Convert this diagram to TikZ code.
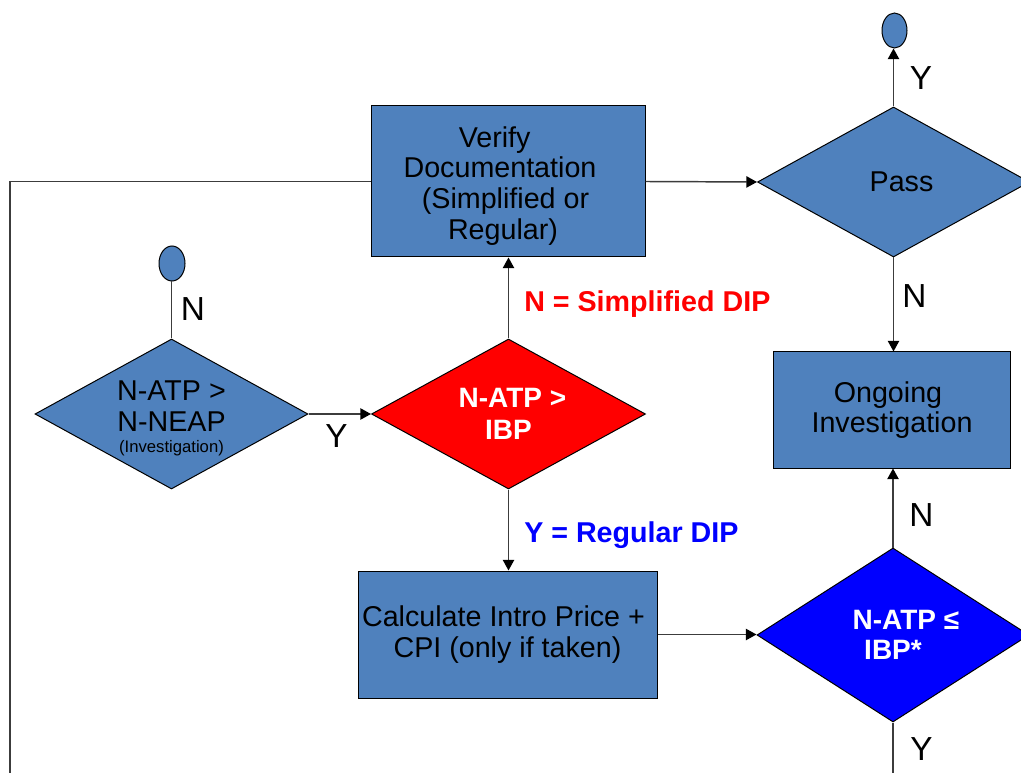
\documentclass[tikz,border=0pt]{standalone}
\usepackage{fontspec}
\setmainfont{Liberation Sans}
\usetikzlibrary{shapes.geometric,arrows.meta}
\definecolor{boxblue}{HTML}{4F81BD}
\definecolor{linegray}{HTML}{3C3C3C}
\definecolor{decred}{HTML}{FF0000}
\definecolor{decblue}{HTML}{0000FF}
\begin{document}
\begin{tikzpicture}[x=0.75pt,y=-0.75pt,
  proc/.style={draw=black,line width=0.75pt,fill=boxblue,rectangle,inner sep=0pt,align=center,font=\fontsize{21.5}{23}\selectfont},
  dec/.style={draw=black,line width=0.75pt,diamond,inner sep=0pt,align=center,font=\fontsize{21.5}{23}\selectfont},
  term/.style={draw=black,line width=0.75pt,fill=boxblue,ellipse,inner sep=0pt,minimum width=18.75pt,minimum height=26.25pt},
  conn/.style={draw=linegray,line width=1.1pt},
  arr/.style={conn,-{Triangle[length=8pt,width=8.5pt,color=black]}},
  yn/.style={inner sep=0pt,font=\fontsize{25}{30}\selectfont},
  dlabel/.style={inner sep=0pt,anchor=base west,font=\bfseries\fontsize{21.5}{24}\selectfont}
]
\useasboundingbox (0,0) rectangle (1021,773);
\clip (0,0) rectangle (1021,773);

% nodes
\node[proc,minimum width=205.5pt,minimum height=113.25pt] (verify) at (508,181.5)
  {\rule{0pt}{21.75pt}Verify\kern20pt\\Documentation\kern12pt\\(Simplified or\kern3.75pt\\Regular)\kern7.5pt};
\node[dec,fill=boxblue,aspect=1.8133,minimum width=204pt,minimum height=112.5pt] (pass) at (893.5,182)
  {\hspace*{12pt}Pass};
\node[term] (endY) at (894.5,30.5) {};
\node[proc,minimum width=177.75pt,minimum height=87pt] (ongoing) at (892,410)
  {Ongoing\kern6pt\\Investigation};
\node[dec,fill=boxblue,aspect=1.82,minimum width=204.75pt,minimum height=112.5pt] (natp) at (171.5,414)
  {\rule{0pt}{21.4pt}N-ATP >\\N-NEAP\\[-7pt]{\fontsize{12.5}{14}\selectfont(Investigation)}};
\node[term,minimum width=19.5pt] (endN) at (172,263.5) {};
\node[dec,fill=decred,text=white,aspect=1.8267,minimum width=205.5pt,minimum height=112.5pt,font=\bfseries\fontsize{21}{24}\selectfont] (ibp) at (508.5,414)
  {\hspace*{6pt}N-ATP >\\IBP};
\node[proc,minimum width=224.25pt,minimum height=95.25pt] (calc) at (507.5,634.5)
  {Calculate Intro Price +\kern6pt\\CPI (only if taken)};
\node[dec,fill=decblue,text=white,aspect=1.5632,minimum width=204pt,minimum height=130.5pt,font=\bfseries\fontsize{21}{23}\selectfont] (ibpstar) at (893,635)
  {\hspace*{19.5pt}N-ATP ≤\\IBP*};

\coordinate (bl) at (10,790);
\coordinate (by) at (893,790);

% connectors
\draw[conn] (verify.west) -| (bl);
\draw[arr] (verify.east) -- (pass.west);
\draw[arr] (pass.north) -- (pass.north |- endY.south);
\draw[arr] (pass.south) -- (pass.south |- ongoing.north);
\draw[arr] (ibpstar.north) -- (ibpstar.north |- ongoing.south);
\draw[conn] (ibpstar.south) -- (by);
\draw[arr] (calc.east) -- (calc.east -| ibpstar.west);
\draw[arr] (ibp.south) -- (ibp.south |- calc.north);
\draw[arr] (ibp.north) -- (ibp.north |- verify.south);
\draw[arr] (natp.east) -- (ibp.west);
\draw[conn] (natp.north) -- (natp.north |- endN.south);

% labels
\node[yn] (lY1) at (921,78) {Y};
\node[yn] (lN1) at (914.5,296) {N};
\node[yn] (lN2) at (921.5,515.5) {N};
\node[yn] (lY2) at (921.5,749.5) {Y};
\node[yn] (lN3) at (193,309) {N};
\node[yn] (lY3) at (336.5,436.5) {Y};
\node[dlabel,text=decred] (lsimp) at (524,312) {N = Simplified DIP};
\node[dlabel,text=decblue] (lreg) at (524,542) {Y = Regular DIP};
\end{tikzpicture}
\end{document}
